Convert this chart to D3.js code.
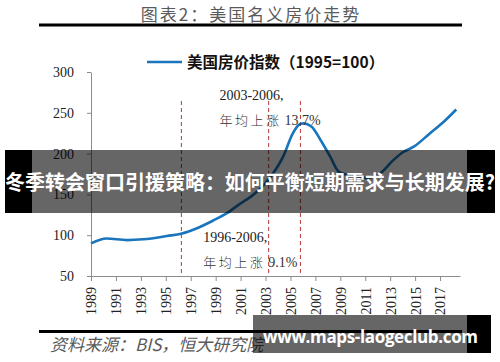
<!DOCTYPE html>
<html>
<head>
<meta charset="utf-8">
<script src="https://cdnjs.cloudflare.com/ajax/libs/d3/7.8.5/d3.min.js"></script>
<style>
  body { margin: 0; background: #fff; }
  svg { display: block; }
</style>
</head>
<body>
<script>
var width = 500,
    height = 362;

// data
var years = [1989, 1990.25, 1991.9, 1993.2, 1995.1, 1996.3, 1997.5, 1998.8, 1999.9, 2001, 2001.8,
             2003.2, 2004.4, 2005.2, 2005.65, 2006.05, 2006.7, 2007.4, 2008.2, 2008.85, 2009.5,
             2010.3, 2011.1, 2012.2, 2013.25, 2014.05, 2014.9, 2016.2, 2017.3, 2018.3];
var index = [90, 96, 94, 95, 99, 102, 108.5, 118, 127, 139, 147,
             167.5, 196, 225, 235, 237, 233, 217, 196, 178, 174,
             172.5, 170, 176, 192, 202, 208.5, 225, 239, 254];
var xTicks = [1989, 1991, 1993, 1995, 1997, 1999, 2001, 2003, 2005, 2007, 2009, 2011, 2013, 2015, 2017];
var yTicks = [50, 100, 150, 200, 250, 300];
var markYears = [1996.25, 2003.25, 2005.8];
var noteHead = ["2003-2006,", "1996-2006,"];
var noteRate = ["年均上涨", "年均上涨"];
var notePct = ["13.7%", "9.1%"];
var noteYear = [1999.3, 1998.0];
var noteVal = [265.7, 91.7];

var svg = d3.select("body").append("svg")
    .attr("width", width)
    .attr("height", height);

var x = d3.scaleLinear().domain([1989, 2018.6]).range([91, 460]);
var y = d3.scaleLinear().domain([50, 300]).range([276, 72]);

// title
svg.append("text")
    .attr("x", 251).attr("y", 21)
    .attr("text-anchor", "middle")
    .style("font-family", "'Noto Sans CJK SC'")
    .style("font-size", "17px")
    .style("letter-spacing", "2px")
    .style("fill", "#5a5a5a")
    .text("图表2：美国名义房价走势");
svg.append("rect").attr("x", 39).attr("y", 23.5).attr("width", 423).attr("height", 3).attr("fill", "#000");

// legend
svg.append("line")
    .attr("x1", 147).attr("x2", 182).attr("y1", 62).attr("y2", 62)
    .attr("stroke", "#1a75bc").attr("stroke-width", 2.5);
svg.append("text")
    .attr("x", 187).attr("y", 67.5)
    .style("font-family", "'Noto Sans CJK SC'")
    .style("font-size", "15.5px")
    .style("font-weight", "bold")
    .style("fill", "#111")
    .text("美国房价指数（1995=100）");

// axes
var yAxis = d3.axisLeft(y).tickValues(yTicks).tickSize(4).tickPadding(13).tickSizeOuter(0);
var gy = svg.append("g").attr("transform", "translate(91,0)").call(yAxis);
var xAxis = d3.axisBottom(x).tickValues(xTicks).tickFormat(d3.format("d")).tickSize(5).tickSizeOuter(0);
var gx = svg.append("g").attr("transform", "translate(0,276)").call(xAxis);
gx.selectAll("text")
    .attr("transform", "rotate(-90)")
    .attr("x", -11).attr("y", 0).attr("dy", "0.35em")
    .style("text-anchor", "end");
[gx, gy].forEach(function(g) {
  g.attr("font-family", "Liberation Serif, Times New Roman, serif").attr("font-size", 14);
  g.selectAll("path, line").attr("stroke", "#8c8c8c");
  g.selectAll("text")
    .style("font-family", "'Liberation Serif', 'Times New Roman', serif")
    .style("font-size", "14px")
    .style("fill", "#222");
});

// red dashed markers
svg.selectAll(".mark")
    .data(markYears)
    .enter().append("line")
    .attr("class", "mark")
    .attr("x1", function(d) { return x(d); })
    .attr("x2", function(d) { return x(d); })
    .attr("y1", 101).attr("y2", 276)
    .attr("stroke", "#b83a3a")
    .attr("stroke-width", 1)
    .attr("stroke-dasharray", "4,3");

// house price line
var line = d3.line()
    .x(function(d, i) { return x(years[i]); })
    .y(function(d) { return y(d); })
    .curve(d3.curveMonotoneX);
svg.append("path")
    .datum(index)
    .attr("d", line)
    .attr("fill", "none")
    .attr("stroke", "#1a75bc")
    .attr("stroke-width", 2.6);

// annotations
noteHead.forEach(function(h, i) {
  var nx = x(noteYear[i]), ny = y(noteVal[i]);
  svg.append("text")
      .attr("x", nx).attr("y", ny)
      .style("font-family", "'Liberation Serif', serif")
      .style("font-size", "14px")
      .style("fill", "#222")
      .text(h);
  var t = svg.append("text")
      .attr("x", nx).attr("y", ny + 25.5)
      .style("font-size", "13px")
      .style("fill", "#333");
  t.append("tspan")
      .style("font-family", "'Noto Sans CJK SC'")
      .style("font-weight", 300)
      .style("letter-spacing", "2.5px")
      .text(noteRate[i]);
  t.append("tspan")
      .attr("dx", 3)
      .style("font-family", "'Liberation Serif', serif")
      .style("font-size", "14px")
      .text(notePct[i]);
});

// source footer
svg.append("rect").attr("x", 39).attr("y", 330).attr("width", 423).attr("height", 3).attr("fill", "#000");
svg.append("text")
    .attr("x", 50).attr("y", 351)
    .style("font-family", "'Noto Sans CJK SC'")
    .style("font-size", "17px")
    .style("font-style", "italic")
    .style("fill", "#5a5a5a")
    .text("资料来源：BIS，恒大研究院");

// overlay banner
svg.append("rect").attr("x", 5).attr("y", 150).attr("width", 27).attr("height", 63).attr("fill", "#000");
svg.append("rect").attr("x", 467).attr("y", 150).attr("width", 28).attr("height", 63).attr("fill", "#000");
svg.append("rect").attr("x", 32).attr("y", 150).attr("width", 435).attr("height", 63)
    .attr("fill", "#000").attr("fill-opacity", 0.6);
svg.append("text")
    .attr("x", 250).attr("y", 190)
    .attr("text-anchor", "middle")
    .attr("textLength", 490)
    .style("font-family", "'Noto Sans CJK SC'")
    .style("font-size", "20px")
    .style("font-weight", "bold")
    .style("fill", "#fff")
    .text("冬季转会窗口引援策略：如何平衡短期需求与长期发展?");

// watermark box
svg.append("rect").attr("x", 467).attr("y", 315).attr("width", 24).attr("height", 38).attr("fill", "#000");
svg.append("rect").attr("x", 253).attr("y", 315).attr("width", 214).attr("height", 38)
    .attr("fill", "#000").attr("fill-opacity", 0.6);
svg.append("text")
    .attr("x", 263).attr("y", 343)
    .attr("textLength", 215)
    .style("font-family", "'Open Sans'")
    .style("font-size", "17px")
    .style("font-weight", "bold")
    .style("fill", "#fff")
    .text("www.maps-laogeclub.com");
</script>
</body>
</html>
